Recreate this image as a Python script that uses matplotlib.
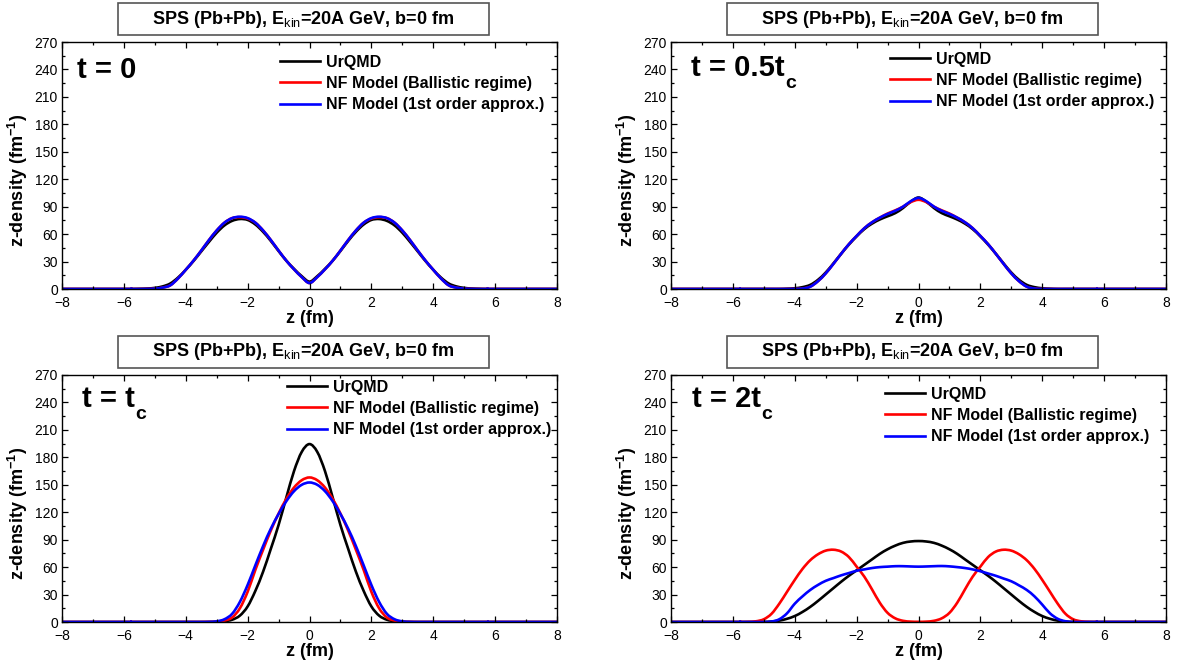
import matplotlib
matplotlib.use("Agg")
import matplotlib.pyplot as plt
import numpy as np
from matplotlib.patches import Rectangle, PathPatch
from matplotlib.path import Path
from matplotlib.lines import Line2D

plt.rcParams['font.family'] = ['Liberation Sans', 'DejaVu Sans']
plt.rcParams['mathtext.fontset'] = 'custom'
plt.rcParams['mathtext.rm'] = 'Liberation Sans'
plt.rcParams['mathtext.bf'] = 'Liberation Sans:bold'
plt.rcParams['mathtext.it'] = 'Liberation Sans:italic'

# longitudinal coordinate (fm): outer end points plus a 0.25 fm grid on [-6, 6]
z = np.concatenate([[-8.0], np.arange(-6.0, 6.01, 0.25), [8.0]])

# t = 0
t0_urqmd = [0,
    0, 0, 0.2, 0.5, 1.2, 2.8, 6, 12.5, 21, 30.5, 41, 51.5, 61.5, 69.5, 74.5, 76.5,
    75.5, 70.5, 62.5, 52.5, 41.5, 31, 22, 14, 8,
    14, 22, 31, 41.5, 52.5, 62.5, 70.5, 75.5, 76.5, 74.5, 69.5, 61.5, 51.5, 41,
    30.5, 21, 12.5, 6, 2.8, 1.2, 0.5, 0.2, 0, 0,
    0]
t0_ballistic = [0,
    0, 0, 0, 0.1, 0.4, 1.5, 4, 11.5, 21, 31, 42, 53.5, 64, 72.5, 77.5, 78.5,
    77, 72.5, 64, 53.5, 42, 31, 21.5, 13, 6.5,
    13, 21.5, 31, 42, 53.5, 64, 72.5, 77, 78.5, 77.5, 72.5, 64, 53.5, 42,
    31, 21, 11.5, 4, 1.5, 0.4, 0.1, 0, 0, 0,
    0]
t0_first = [0,
    0, 0, 0, 0.1, 0.4, 1.5, 4, 11.5, 21, 31, 42, 53.5, 64, 72.5, 77.5, 79,
    77.5, 72.5, 64, 53.5, 42, 31, 21.5, 13, 6.5,
    13, 21.5, 31, 42, 53.5, 64, 72.5, 77.5, 79, 77.5, 72.5, 64, 53.5, 42,
    31, 21, 11.5, 4, 1.5, 0.4, 0.1, 0, 0, 0,
    0]

# t = 0.5 t_c
t05_urqmd = [0,
    0, 0, 0, 0, 0, 0, 0, 0.3, 0.8, 2, 4.5, 10, 18, 28, 38.5, 48.5,
    57.5, 65.5, 71.5, 76, 79.5, 83, 88.5, 95.5, 100,
    95.5, 88.5, 83, 79.5, 76, 71.5, 65.5, 57.5, 48.5, 38.5, 28, 18, 10, 4.5,
    2, 0.8, 0.3, 0, 0, 0, 0, 0, 0, 0,
    0]
t05_ballistic = [0,
    0, 0, 0, 0, 0, 0, 0, 0, 0.1, 0.5, 2.5, 8.5, 17, 27.5, 38.5, 49,
    58, 66.5, 73, 78, 82.5, 86, 90, 95, 97.5,
    95, 90, 86, 82.5, 78, 73, 66.5, 58, 49, 38.5, 27.5, 17, 8.5, 2.5,
    0.5, 0.1, 0, 0, 0, 0, 0, 0, 0, 0,
    0]
t05_first = [0,
    0, 0, 0, 0, 0, 0, 0, 0, 0.1, 0.5, 2.5, 8.5, 17, 27.5, 38.5, 49,
    58, 66.5, 73, 78, 82, 85.5, 90, 96, 99.5,
    96, 90, 85.5, 82, 78, 73, 66.5, 58, 49, 38.5, 27.5, 17, 8.5, 2.5,
    0.5, 0.1, 0, 0, 0, 0, 0, 0, 0, 0,
    0]

# t = t_c
tc_urqmd = [0,
    0, 0, 0, 0, 0, 0, 0, 0, 0, 0, 0, 0.1, 0.3, 0.9, 2.5, 7,
    17, 34, 55, 80, 106, 136, 165, 186, 194.5,
    186, 165, 136, 106, 80, 55, 34, 17, 7, 2.5, 0.9, 0.3, 0.1, 0,
    0, 0, 0, 0, 0, 0, 0, 0, 0, 0,
    0]
tc_ballistic = [0,
    0, 0, 0, 0, 0, 0, 0, 0, 0, 0, 0, 0.1, 0.3, 1.5, 5, 15,
    33, 57, 79, 100, 118.5, 134.5, 147, 155, 158,
    155, 147, 134.5, 118.5, 100, 79, 57, 33, 15, 5, 1.5, 0.3, 0.1, 0,
    0, 0, 0, 0, 0, 0, 0, 0, 0, 0,
    0]
tc_first = [0,
    0, 0, 0, 0, 0, 0, 0, 0, 0, 0, 0, 0.1, 0.7, 3, 9, 22,
    40.5, 62, 83, 102, 118, 132, 143, 150, 152.5,
    150, 143, 132, 118, 102, 83, 62, 40.5, 22, 9, 3, 0.7, 0.1, 0,
    0, 0, 0, 0, 0, 0, 0, 0, 0, 0,
    0]

# t = 2 t_c
t2c_urqmd = [0,
    0, 0, 0, 0, 0.1, 0.5, 1.5, 3.5, 6.5, 11, 16.5, 23, 30, 37, 44, 50.5,
    56.5, 62.5, 68.5, 74.5, 79.5, 83.5, 86.5, 88, 88.5,
    88, 86.5, 83.5, 79.5, 74.5, 68.5, 62.5, 56.5, 50.5, 44, 37, 30, 23, 16.5,
    11, 6.5, 3.5, 1.5, 0.5, 0.1, 0, 0, 0, 0,
    0]
t2c_ballistic = [0,
    0, 0, 0.2, 0.8, 3, 9, 20, 33, 46, 58, 67.5, 74, 78, 79, 77, 71,
    60.5, 49.5, 35.5, 21, 10, 4, 1.3, 0.4, 0.2,
    0.4, 1.3, 4, 10, 21, 35.5, 49.5, 60.5, 71, 77, 79, 78, 74, 67.5,
    58, 46, 33, 20, 9, 3, 0.8, 0.2, 0, 0,
    0]
t2c_first = [0,
    0, 0, 0, 0, 0, 0.5, 3, 9.5, 20, 28, 35, 40.5, 45, 48, 51, 53.5,
    56, 57.5, 59, 60, 60.5, 61, 61, 60.7, 60.5,
    60.7, 61, 61.2, 60.8, 60, 59, 57.5, 55.5, 53, 50.5, 47.5, 44.5, 40, 35,
    28, 19, 9.5, 3.5, 0.8, 0, 0, 0, 0, 0,
    0]

panels = [
    ('t = 0', None, t0_urqmd, t0_ballistic, t0_first),
    ('t = 0.5t', 'c', t05_urqmd, t05_ballistic, t05_first),
    ('t = t', 'c', tc_urqmd, tc_ballistic, tc_first),
    ('t = 2t', 'c', t2c_urqmd, t2c_ballistic, t2c_first),
]
series_labels = ['UrQMD', 'NF Model (Ballistic regime)', 'NF Model (1st order approx.)']
series_colors = ['#000000', '#ff0000', '#0000ff']
title = r'SPS (Pb+Pb), E$_{\mathrm{kin}}$=20A GeV, b=0 fm'


def spline_path(x, y):
    """Smooth curve through every (x, y) point, drawn as cubic Bezier pieces."""
    x = np.asarray(x, float)
    y = np.asarray(y, float)
    px = np.concatenate([[x[0]], x, [x[-1]]])
    py = np.concatenate([[y[0]], y, [y[-1]]])
    verts = [(x[0], y[0])]
    codes = [Path.MOVETO]
    for k in range(1, len(x)):
        i = k + 1
        c1 = (px[i - 1] + (px[i] - px[i - 2]) / 6, py[i - 1] + (py[i] - py[i - 2]) / 6)
        c2 = (px[i] - (px[i + 1] - px[i - 1]) / 6, py[i] - (py[i + 1] - py[i - 1]) / 6)
        verts += [c1, c2, (px[i], py[i])]
        codes += [Path.CURVE4] * 3
    return Path(verts, codes)


W, H = 1185, 666
fig = plt.figure(figsize=(W / 100, H / 100), dpi=100)

# axes boxes in pixels: left, top
frames = [(62, 42), (671, 42), (62, 375), (671, 375)]
aw, ah = 495, 247
label_pos = [(15, 36), (20, 34), (20, 32), (21, 32)]
legend_pos = [(280, 61), (890, 58), (287, 386), (885, 393)]

for i, (tag, sub, y_u, y_b, y_f) in enumerate(panels):
    left, top = frames[i]
    ax = fig.add_axes([left / W, (H - top - ah) / H, aw / W, ah / H])
    handles = []
    for y, c in zip((y_u, y_b, y_f), series_colors):
        ax.add_patch(PathPatch(spline_path(z, y), fill=False, edgecolor=c,
                               lw=1.9, joinstyle='round', capstyle='butt'))
        handles.append(Line2D([], [], color=c, lw=1.9))

    ax.set_xlim(-8, 8)
    ax.set_ylim(0, 270)
    ax.set_xticks(np.arange(-8, 9, 2))
    ax.set_xticks(np.arange(-8, 9, 1), minor=True)
    ax.set_yticks(np.arange(0, 271, 30))
    ax.set_yticks(np.arange(0, 271, 15), minor=True)
    ax.tick_params(which='both', direction='in', top=True, right=True,
                   labelsize=10, width=0.9)
    ax.tick_params(which='major', length=4.5)
    ax.tick_params(axis='x', which='major', pad=5)
    ax.tick_params(axis='y', which='major', pad=3)
    ax.tick_params(which='minor', length=2.5)
    for s in ax.spines.values():
        s.set_linewidth(1.0)
    ax.set_xlabel('z (fm)', fontsize=13, fontweight='bold', labelpad=0)
    ax.set_ylabel(r'z-density (fm$^{\mathbf{-1}}$)', fontsize=13,
                  fontweight='bold')
    ax.yaxis.set_label_coords(-32 / aw, 0.44)

    lx, ly = label_pos[i]
    t = ax.text(lx / aw, 1 - ly / ah, tag, transform=ax.transAxes,
                fontsize=21, fontweight='bold', va='baseline', ha='left')
    if sub:
        ax.annotate(sub, xy=(1, 0), xycoords=t, xytext=(0.5, -4.5),
                    textcoords='offset points', fontsize=14,
                    fontweight='bold', va='baseline', ha='left')

    gx, gy = legend_pos[i]
    ax.legend(handles, series_labels, loc='upper left',
              bbox_to_anchor=((gx - left) / aw, 1 - (gy - top - 6) / ah),
              frameon=False, borderpad=0, borderaxespad=0, handlelength=2.5,
              handletextpad=0.35, labelspacing=0.38,
              prop={'weight': 'bold', 'size': 11.5})

    # boxed heading above each panel
    bx, by, bw, bh = left + 56, top - 39, 371, 32
    fig.patches.append(Rectangle((bx / W, (H - by - bh) / H), bw / W, bh / H,
                                 transform=fig.transFigure, fill=True,
                                 facecolor='white', edgecolor='#555555',
                                 lw=1.2))
    fig.text((bx + bw / 2) / W, (H - by - bh / 2) / H, title,
             ha='center', va='center', fontsize=13, fontweight='bold')

fig.savefig('out.png', dpi=100)
